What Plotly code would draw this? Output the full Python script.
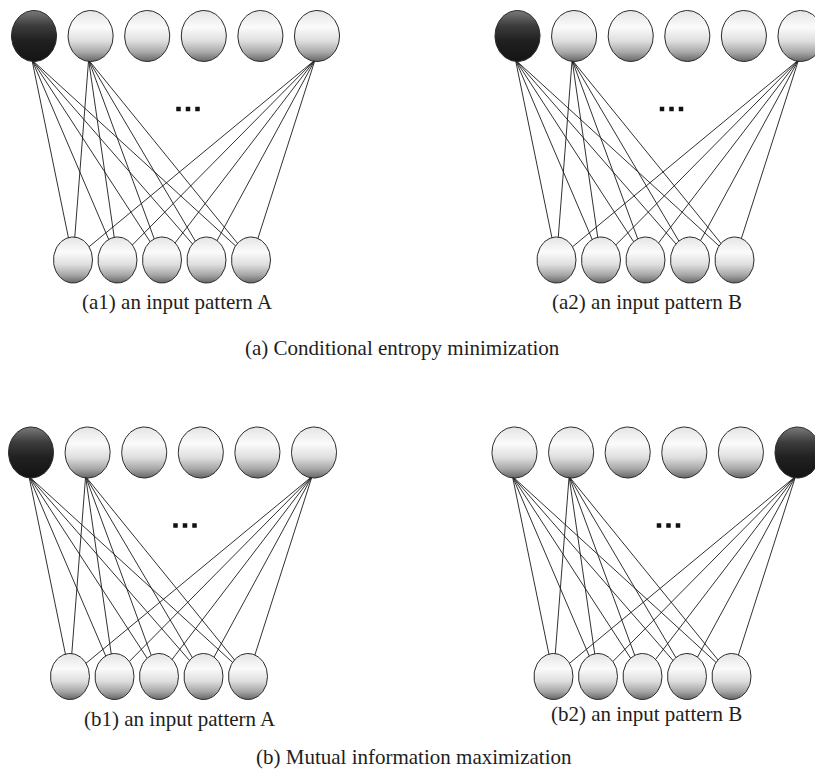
import numpy as np
import plotly.graph_objects as go

# ---------------- data ----------------
panels = ["a1", "a2", "b1", "b2"]
captions = ["(a1) an input pattern A", "(a2) an input pattern B",
            "(b1) an input pattern A", "(b2) an input pattern B"]
active_node = [0, 0, 0, 5]          # index of the dark (winning) output unit
n_top = 6                            # output units
n_bottom = 5                         # input units
connected_top = [0, 1, 5]            # output units whose connections are drawn
titles = ["(a) Conditional entropy minimization", "(b) Mutual information maximization"]

# ---------------- layout constants (pixel space) ----------------
W, H = 815, 774
panel_dx = [0, 483.5, -3, 480.5]
panel_dy = [0, 0, 416.5, 416.5]
top_x0, top_step, top_y = 34, 56.6, 36
top_rx, top_ry = 22.5, 25.5
bot_x0, bot_step, bot_y = 73, 44.5, 260
bot_rx, bot_ry = 19.5, 23
caption_pos = [(177, 302), (647, 302), (180, 719), (646, 714)]
title_pos = [(402, 348), (414, 757)]
dots_off = [(178.5, 109), (188, 109), (197.5, 109)]

light_scale = [[0.0, "#e4e4e4"], [0.33, "#fbfbfb"], [0.6, "#dedede"],
               [0.82, "#a8a8a8"], [1.0, "#666666"]]
dark_scale = [[0.0, "#7a7a7a"], [0.3, "#3c3c3c"], [0.6, "#202020"],
              [1.0, "#141414"]]

fig = go.Figure()

theta = np.linspace(0, 2 * np.pi, 81)


def ellipse(cx, cy, rx, ry, scale):
    fig.add_trace(go.Scatter(
        x=cx + rx * np.cos(theta), y=cy + ry * np.sin(theta),
        mode="lines", fill="toself",
        line=dict(color="#2a2a2a", width=1),
        fillgradient=dict(type="vertical", colorscale=scale,
                          start=cy - ry, stop=cy + ry),
        hoverinfo="skip", showlegend=False))


for p in range(len(panels)):
    dx, dy = panel_dx[p], panel_dy[p]
    tops = [(dx + top_x0 + i * top_step, dy + top_y) for i in range(n_top)]
    bots = [(dx + bot_x0 + j * bot_step, dy + bot_y) for j in range(n_bottom)]
    # connections (drawn first, hidden under the opaque units)
    lx, ly = [], []
    for i in connected_top:
        sx, sy = tops[i][0] - 2, tops[i][1] + top_ry - 1.5
        for bx, by in bots:
            lx += [sx, bx, None]
            ly += [sy, by, None]
    fig.add_trace(go.Scatter(x=lx, y=ly, mode="lines",
                             line=dict(color="#1a1a1a", width=0.9),
                             hoverinfo="skip", showlegend=False))
    # units
    for i, (cx, cy) in enumerate(tops):
        ellipse(cx, cy, top_rx, top_ry, dark_scale if i == active_node[p] else light_scale)
    for cx, cy in bots:
        ellipse(cx, cy, bot_rx, bot_ry, light_scale)
    # ellipsis dots
    fig.add_trace(go.Scatter(x=[dx + o[0] for o in dots_off], y=[dy + o[1] for o in dots_off],
                             mode="markers",
                             marker=dict(symbol="square", size=4.5, color="#111111",
                                         line=dict(width=0)),
                             hoverinfo="skip", showlegend=False))
    fig.add_annotation(x=caption_pos[p][0], y=caption_pos[p][1], text=captions[p],
                       showarrow=False, xref="x", yref="y",
                       font=dict(family="Liberation Serif", size=21, color="#1e1e1e"))

for t, (tx, ty) in zip(titles, title_pos):
    fig.add_annotation(x=tx, y=ty, text=t, showarrow=False, xref="x", yref="y",
                       font=dict(family="Liberation Serif", size=21, color="#1e1e1e"))

fig.update_layout(
    width=W, height=H, margin=dict(l=0, r=0, t=0, b=0),
    paper_bgcolor="white", plot_bgcolor="white", showlegend=False,
    xaxis=dict(range=[0, W], visible=False, fixedrange=True),
    yaxis=dict(range=[H, 0], visible=False, fixedrange=True),
)
fig.write_html("out.html", config={"displayModeBar": False},
               post_script="document.body.style.margin='0';document.body.style.overflow='hidden';")
